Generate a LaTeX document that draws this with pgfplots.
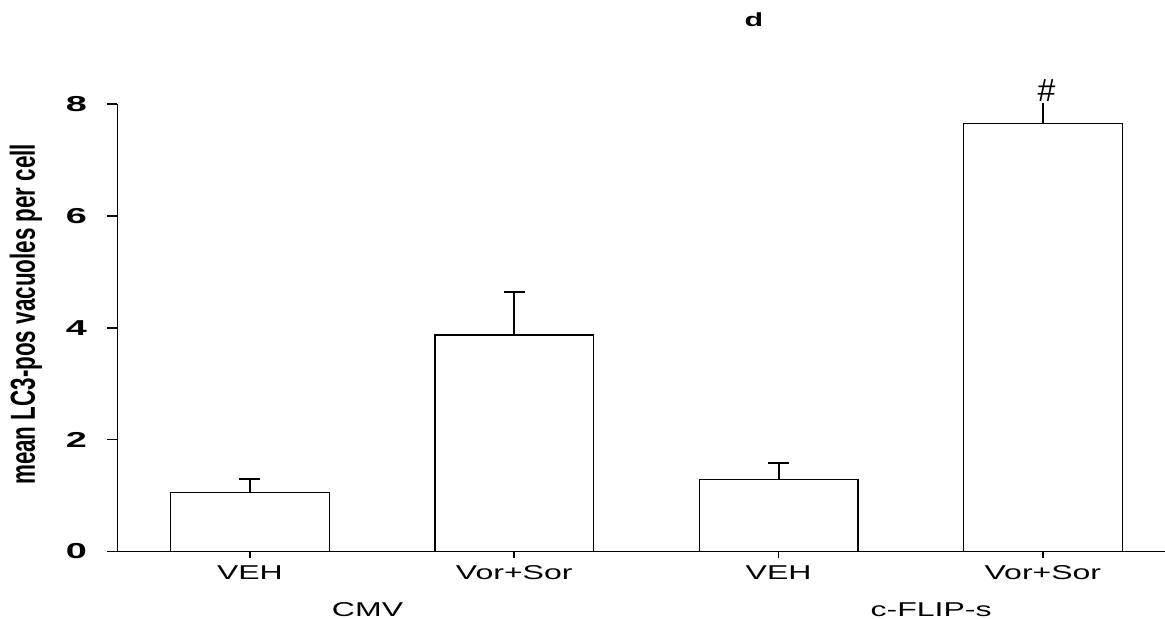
\documentclass[border=0pt]{standalone}
\usepackage{fontspec}
\setmainfont{Liberation Sans}
\newfontfamily\widefont[FakeStretch=1.6]{Liberation Sans}
\newfontfamily\widerfont[FakeStretch=1.75]{Liberation Sans}
\usepackage{graphicx}
\usepackage{pgfplots}
\pgfplotsset{compat=1.18}
\begin{document}
\begin{tikzpicture}
\begin{axis}[
  scale only axis,
  width=523.75pt, height=223.75pt,
  xmin=-0.501, xmax=3.462, ymin=0, ymax=8,
  axis x line=bottom, axis y line=left,
  axis line style={-, line width=0.75pt, black},
  tick align=outside,
  xtick={0,1,2,3}, xticklabels={VEH,Vor+Sor,VEH,Vor+Sor},
  ytick={0,2,4,6,8}, yticklabels={0,2,4,6,8},
  x tick style={line width=0.75pt, black, /pgfplots/major tick length=3pt},
  y tick style={line width=0.75pt, black, /pgfplots/major tick length=5pt},
  xticklabel style={font=\widefont\fontsize{10}{11}\selectfont, anchor=base, yshift=-9.5pt},
  yticklabel style={font=\widerfont\bfseries\fontsize{10.8}{12}\selectfont, anchor=east, xshift=-7.5pt},
  ybar, bar width=0.6,
  clip=false,
]
\addplot[bar shift=0pt, draw=black, fill=white, line width=0.65pt,
  error bars/.cd, y dir=plus, y explicit,
  error bar style={line width=1pt, black},
  error mark options={rotate=90, mark size=5.25pt, line width=1pt, black}]
  coordinates {(0,1.058) +- (0,0.238) (1,3.870) +- (0,0.774) (2,1.291) +- (0,0.296)};
\addplot[bar shift=0pt, draw=black, fill=white, line width=0.65pt,
  error bars/.cd, y dir=plus, y explicit, error mark=none,
  error bar style={line width=1pt, black}]
  coordinates {(3,7.655) +- (0,0.357)};
\node[anchor=base, font=\widefont\fontsize{10}{11}\selectfont] at ([yshift=-32.25pt]axis cs:0.445,0) {CMV};
\node[anchor=base, font=\widefont\fontsize{10}{11}\selectfont] at ([yshift=-32.25pt]axis cs:2.577,0) {c-FLIP-s};
\node[anchor=base, font=\widefont\bfseries\fontsize{9.5}{10}\selectfont] at ([yshift=39pt]axis cs:1.907,8) {d};
\node[anchor=south, inner sep=0pt, font=\fontsize{16}{18}\selectfont] at (axis cs:3.014,8.04) {\#};
\node[rotate=90, anchor=base, inner sep=0pt, font=\bfseries\fontsize{11.2}{12}\selectfont] at ([xshift=-41.25pt]rel axis cs:0,0.53) {\scalebox{1}[1.55]{mean LC3-pos vacuoles per cell}};
\end{axis}
\pgfresetboundingbox
\path[use as bounding box] (-58.75pt,-33.25pt) rectangle (523.75pt,275.75pt);
\end{tikzpicture}
\end{document}
